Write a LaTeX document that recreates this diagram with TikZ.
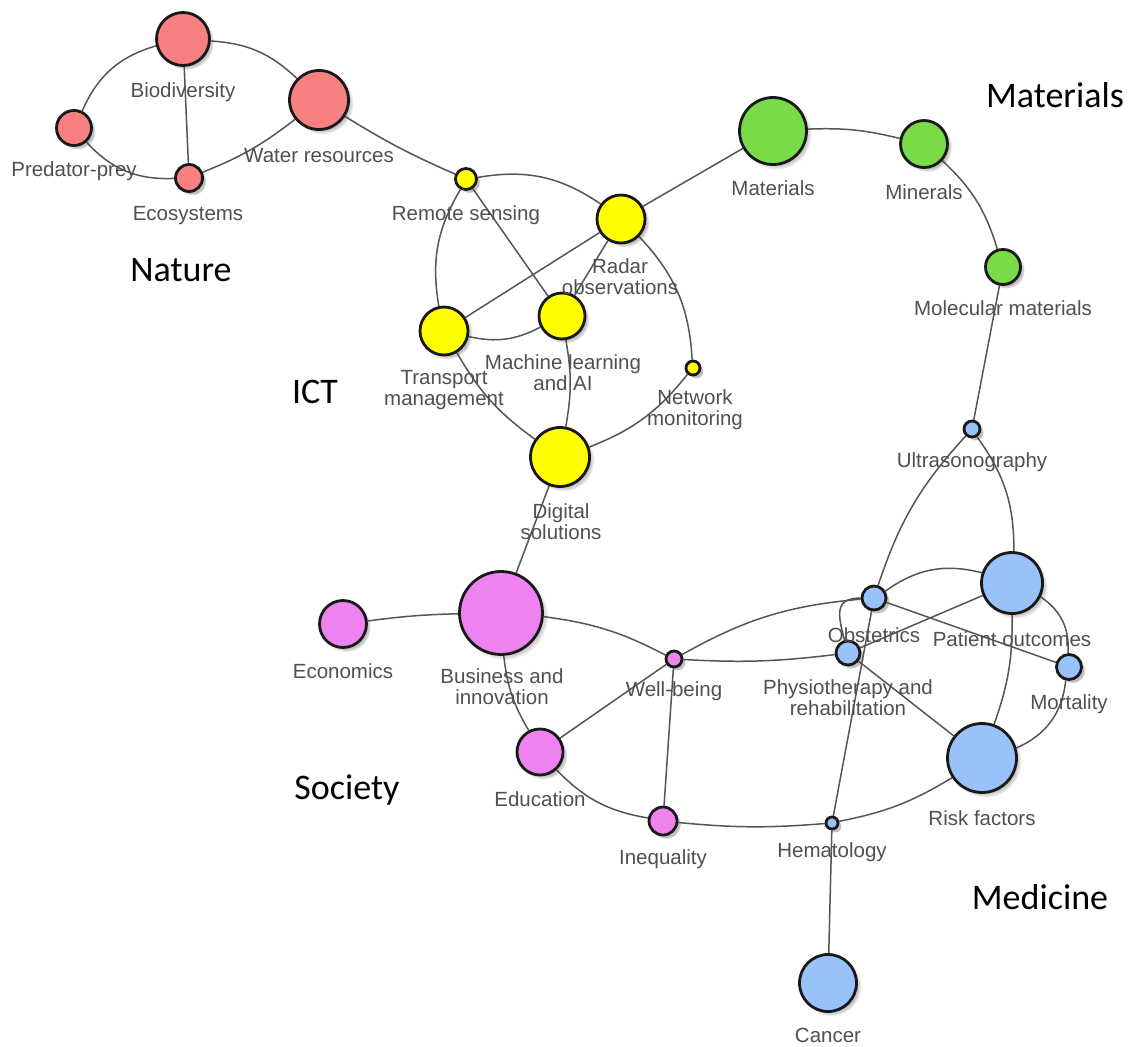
\documentclass[tikz,border=0pt]{standalone}
\usepackage{fontspec}
\newfontfamily\labfont{Liberation Sans}
\newfontfamily\grpfont{Carlito}
\usetikzlibrary{shadows}
\definecolor{cred}{HTML}{F88080}
\definecolor{cyel}{HTML}{FFFF00}
\definecolor{cgrn}{HTML}{79DC47}
\definecolor{cvio}{HTML}{EE82EE}
\definecolor{cblu}{HTML}{99C2FA}
\definecolor{edgec}{HTML}{555555}
\definecolor{labc}{HTML}{505050}
\pgfdeclarelayer{bg}
\pgfdeclarelayer{edges}
\pgfsetlayers{bg,edges,main}
\begin{document}
\begin{tikzpicture}[x=1pt,y=1pt,
  dot/.style={circle, draw=black!90, line width=2.8pt, inner sep=0pt, minimum size=#1,
    circular drop shadow={shadow xshift=3pt, shadow yshift=-3pt, shadow scale=1.06, fill=black!70, opacity=0.35}},
  lab/.style={inner sep=0pt, align=center, text=labc, font=\labfont\fontsize{20.5}{21}\selectfont},
  grp/.style={inner sep=0pt, text=black, font=\grpfont\fontsize{36}{40}\selectfont},
  edge/.style={draw=edgec, line width=1.5pt}]
\useasboundingbox (0,0) rectangle (1131,-1046);
\begin{pgfonlayer}{bg}
\fill[white] (0,0) rectangle (1131,-1046);
\end{pgfonlayer}

% Nature
\node[dot=53, fill=cred] (bio) at (183,-39) {};
\node[dot=59, fill=cred] (wat) at (319,-100) {};
\node[dot=35, fill=cred] (pred) at (74,-128) {};
\node[dot=27, fill=cred] (eco) at (189,-178) {};
% ICT
\node[dot=21, fill=cyel] (rs) at (466,-179) {};
\node[dot=48, fill=cyel] (rad) at (621,-219) {};
\node[dot=48, fill=cyel] (tra) at (444,-331) {};
\node[dot=46, fill=cyel] (ml) at (562,-316) {};
\node[dot=14, fill=cyel] (net) at (693,-368) {};
\node[dot=59, fill=cyel] (dig) at (560,-457) {};
% Materials
\node[dot=67, fill=cgrn] (mat) at (773,-131) {};
\node[dot=47, fill=cgrn] (min) at (924,-144) {};
\node[dot=35, fill=cgrn] (mol) at (1003,-267) {};
% Medicine
\node[dot=16, fill=cblu] (ult) at (972,-429) {};
\node[dot=24, fill=cblu] (obs) at (874,-598) {};
\node[dot=61, fill=cblu] (pat) at (1012,-583) {};
\node[dot=24, fill=cblu] (phy) at (848,-653) {};
\node[dot=25, fill=cblu] (mor) at (1069,-667) {};
\node[dot=69, fill=cblu] (ris) at (982,-758) {};
\node[dot=12, fill=cblu] (hem) at (832,-823) {};
\node[dot=57, fill=cblu] (can) at (828,-983) {};
% Society
\node[dot=47, fill=cvio] (econ) at (343,-624) {};
\node[dot=83, fill=cvio] (bus) at (501,-613) {};
\node[dot=16, fill=cvio] (wb) at (674,-659) {};
\node[dot=46, fill=cvio] (edu) at (540,-752) {};
\node[dot=28, fill=cvio] (ine) at (663,-821) {};

% Labels
\node[lab] (lbio) at (183,-92) {Biodiversity};
\node[lab] (lwat) at (319,-156) {Water resources};
\node[lab] (lpred) at (74,-171) {Predator-prey};
\node[lab] (leco) at (188,-216) {Ecosystems};
\node[lab] (lrs) at (466,-215) {Remote sensing};
\node[lab] (lrad) at (620,-277) {Radar\\observations};
\node[lab] (ltra) at (444,-390) {Transport\\management};
\node[lab] (lml) at (563,-373) {Machine learning\\and AI};
\node[lab] (lnet) at (695,-410) {Network\\monitoring};
\node[lab] (ldig) at (561,-522) {Digital\\solutions};
\node[lab] (lmat) at (773,-188) {Materials};
\node[lab] (lmin) at (924,-192) {Minerals};
\node[lab] (lmol) at (1003,-308) {Molecular materials};
\node[lab] (lult) at (972,-462) {Ultrasonography};
\node[lab] (lobs) at (874,-635) {Obstetrics};
\node[lab] (lpat) at (1012,-639) {Patient outcomes};
\node[lab] (lphy) at (848,-698) {Physiotherapy and\\rehabilitation};
\node[lab] (lmor) at (1069,-704) {Mortality};
\node[lab] (lris) at (982,-818) {Risk factors};
\node[lab] (lhem) at (832,-852) {Hematology};
\node[lab] (lcan) at (828,-1035) {Cancer};
\node[lab] (lecon) at (343,-671) {Economics};
\node[lab] (lbus) at (502,-687) {Business and\\innovation};
\node[lab] (lwb) at (674,-691) {Well-being};
\node[lab] (ledu) at (540,-799) {Education};
\node[lab] (line) at (663,-859) {Inequality};

% Group titles
\node[grp] (gnat) at (181,-270) {Nature};
\node[grp] (gict) at (315,-392) {ICT};
\node[grp] (gmat) at (1055,-95) {Materials};
\node[grp] (gsoc) at (347,-790) {Society};
\node[grp] (gmed) at (1040,-897) {Medicine};

\begin{pgfonlayer}{edges}
% Nature
\draw[edge] (bio) to[bend right=25] (pred);
\draw[edge] (bio) to[bend left=20] (wat);
\draw[edge] (bio) -- (eco);
\draw[edge] (pred) to[bend right=25] (eco);
\draw[edge] (eco) to[bend right=8] (wat);
\draw[edge] (wat) to[bend right=4] (rs);
% ICT
\draw[edge] (rs) to[bend left=22] (rad);
\draw[edge] (rs) to[bend right=20] (tra);
\draw[edge] (rs) -- (ml);
\draw[edge] (rad) -- (tra);
\draw[edge] (rad) -- (ml);
\draw[edge] (rad) to[bend left=20] (net);
\draw[edge] (tra) to[bend right=20] (ml);
\draw[edge] (tra) to[bend right=12] (dig);
\draw[edge] (ml) to[bend left=10] (dig);
\draw[edge] (net) to[bend left=15] (dig);
\draw[edge] (dig) -- (bus);
\draw[edge] (rad) -- (mat);
% Materials
\draw[edge] (mat) to[bend left=8] (min);
\draw[edge] (min) to[bend left=15] (mol);
\draw[edge] (mol) -- (ult);
% Medicine
\draw[edge] (ult) to[bend right=12] (obs);
\draw[edge] (ult) to[bend left=18] (pat);
\draw[edge] (obs) to[bend left=25] (pat);
\draw[edge] (obs) -- (mor);
\draw[edge] (obs) to[out=180,in=105,looseness=1.5] (phy);
\draw[edge] (wb) to[bend left=12] (obs);
\draw[edge] (wb) to[bend right=5] (phy);
\draw[edge] (phy) -- (pat);
\draw[edge] (phy) -- (ris);
\draw[edge] (hem) -- (obs);
\draw[edge] (pat) to[bend left=10] (ris);
\draw[edge] (pat) to[bend left=30] (mor);
\draw[edge] (mor) to[bend left=30] (ris);
\draw[edge] (ris) to[bend left=10] (hem);
\draw[edge] (hem) -- (can);
\draw[edge] (ine) to[bend right=5] (hem);
% Society
\draw[edge] (econ) to[bend left=3] (bus);
\draw[edge] (bus) to[bend left=10] (wb);
\draw[edge] (bus) to[bend right=12] (edu);
\draw[edge] (edu) -- (wb);
\draw[edge] (wb) -- (ine);
\draw[edge] (edu) to[bend right=18] (ine);
\end{pgfonlayer}
\end{tikzpicture}
\end{document}
